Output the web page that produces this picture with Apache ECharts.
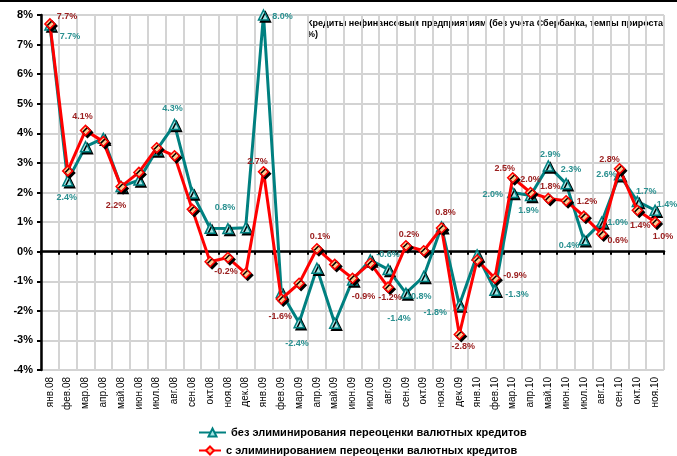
<!DOCTYPE html>
<html><head><meta charset="utf-8">
<script src="https://cdn.jsdelivr.net/npm/echarts@6/dist/echarts.min.js"></script>
<style>html,body{margin:0;padding:0;background:#fff}#c{width:677px;height:456px}</style>
</head><body><div id="c"></div>
<script>
const categories = ['янв.08','фев.08','мар.08','апр.08','май.08','июн.08','июл.08','авг.08','сен.08','окт.08','ноя.08','дек.08',
  'янв.09','фев.09','мар.09','апр.09','май.09','июн.09','июл.09','авг.09','сен.09','окт.09','ноя.09','дек.09',
  'янв.10','фев.10','мар.10','апр.10','май.10','июн.10','июл.10','авг.10','сен.10','окт.10','ноя.10'];
const seriesNoElim = [7.66, 2.4, 3.55, 3.83, 2.2, 2.42, 3.44, 4.3, 1.98, 0.79, 0.78, 0.81,
  8.0, -1.38, -2.4, -0.56, -2.42, -0.96, -0.28, -0.6, -1.4, -0.84, 0.84, -1.8,
  -0.11, -1.3, 2.0, 1.9, 2.9, 2.3, 0.4, 1.0, 2.6, 1.7, 1.4];
const seriesElim = [7.7, 2.73, 4.1, 3.72, 2.2, 2.68, 3.51, 3.24, 1.43, -0.34, -0.2, -0.73,
  2.7, -1.6, -1.07, 0.1, -0.43, -0.9, -0.39, -1.2, 0.2, 0.03, 0.8, -2.8,
  -0.28, -0.9, 2.5, 2.0, 1.8, 1.72, 1.2, 0.6, 2.8, 1.4, 1.0];
const seriesNames = ['без элиминирования переоценки валютных кредитов', 'с элиминированием переоценки валютных кредитов'];
const titleText = 'Кредиты нефинансовым предприятиям (без учета Сбербанка, темпы прироста,\n%)';
const yMin = -4, yMax = 8, yStep = 1;

// label placement (offset of label centre from the point, px)
const labelsNoElim = {0:[20,11],1:[-1,17],7:[-2,-16],10:[-3,-21],12:[19,2],14:[-2,21],19:[0,-15],20:[-7,25],21:[-4,20],
  23:[-24,8],25:[22,4],26:[-20,2],27:[-2,15],28:[2,-11],29:[5,-14],30:[-15,6],31:[16,0],32:[-13,0],33:[9,-10],34:[12,-6]};
const labelsElim = {0:[17,-7],2:[-3,-14],4:[-5,19],10:[-2,14],12:[-6,-10],13:[-1,18],15:[3,-12],17:[11,18],19:[2,10],
  20:[3,-11],22:[4,-15],23:[4,12],25:[20,-3],26:[-8,-9],27:[0,-13],28:[2,-12],30:[3,-15],31:[16,7],32:[-10,-9],33:[3,15],34:[8,14]};

const FONT = 'Arial';
function build(values, labels, color) {
  return values.map((v, i) => {
    const item = { value: v };
    if (labels[i]) {
      item.label = { show: true, position: 'inside', offset: labels[i], color: color,
        fontFamily: FONT, fontWeight: 'bold', fontSize: 9,
        formatter: p => p.value.toFixed(1) + '%' };
    }
    return item;
  });
}

const legendText = { fontFamily: FONT, fontWeight: 'bold', fontSize: 11, color: '#000' };
const chart = echarts.init(document.getElementById('c'), null, { renderer: 'canvas' });
chart.setOption({
  animation: false,
  backgroundColor: '#fff',
  grid: { left: 41, right: 13, top: 15, bottom: 86 },
  graphic: [
    { type: 'rect', left: 0, top: 0, shape: { width: 677, height: 2 }, style: { fill: '#000' } },
    { type: 'text', left: 307, top: 18, style: { text: titleText, fontFamily: FONT, fontWeight: 'bold', fontSize: 9, fill: '#000', lineHeight: 11 } }
  ],
  legend: [
    { left: 198, top: 427, itemWidth: 27, itemHeight: 10, padding: 0, textStyle: legendText, data: [seriesNames[0]] },
    { left: 198, top: 445, itemWidth: 22, itemHeight: 10, padding: 0, textStyle: legendText, data: [seriesNames[1]] }
  ],
  xAxis: [
    { type: 'category', data: categories, boundaryGap: true, position: 'bottom',
      axisLine: { show: false, onZero: false }, axisTick: { show: false },
      axisLabel: { rotate: 90, fontFamily: FONT, fontSize: 10, color: '#000', margin: 7, interval: 0 },
      splitLine: { show: true, interval: 0, lineStyle: { color: '#d4d4d4', width: 2 } } },
    { type: 'category', data: categories, boundaryGap: true, position: 'bottom',
      axisLine: { show: true, onZero: true, lineStyle: { color: '#000', width: 2.5 } },
      axisTick: { show: true, interval: 0, length: 3, lineStyle: { color: '#000', width: 2 } },
      axisLabel: { show: false }, splitLine: { show: false } }
  ],
  yAxis: {
    type: 'value', min: yMin, max: yMax, interval: yStep,
    axisLine: { show: true, lineStyle: { color: '#000', width: 2.5 } },
    axisTick: { show: true, length: 4, lineStyle: { color: '#000', width: 2 } },
    axisLabel: { formatter: '{value}%', fontFamily: FONT, fontWeight: 'bold', fontSize: 11, color: '#000', margin: 8 },
    splitLine: { show: true, lineStyle: { color: '#c4c4c4', width: 1.5 } }
  },
  series: [
    { name: seriesNames[0], type: 'line', xAxisIndex: 0, data: build(seriesNoElim, labelsNoElim, '#2a9090'),
      symbol: 'triangle', symbolSize: 10, showAllSymbol: true,
      lineStyle: { color: '#008080', width: 3 },
      itemStyle: { color: '#a6e6e6', borderColor: '#008080', borderWidth: 1.5,
        shadowColor: '#000', shadowBlur: 0, shadowOffsetX: 2, shadowOffsetY: 2 },
      z: 2 },
    { name: seriesNames[1], type: 'line', xAxisIndex: 0, data: build(seriesElim, labelsElim, '#9b2020'),
      symbol: 'diamond', symbolSize: 10, showAllSymbol: true,
      lineStyle: { color: '#ff0000', width: 3 },
      itemStyle: { color: '#ffc890', borderColor: '#ff0000', borderWidth: 1.5,
        shadowColor: '#000', shadowBlur: 0, shadowOffsetX: 2, shadowOffsetY: 2 },
      z: 3 }
  ]
});
</script></body></html>
